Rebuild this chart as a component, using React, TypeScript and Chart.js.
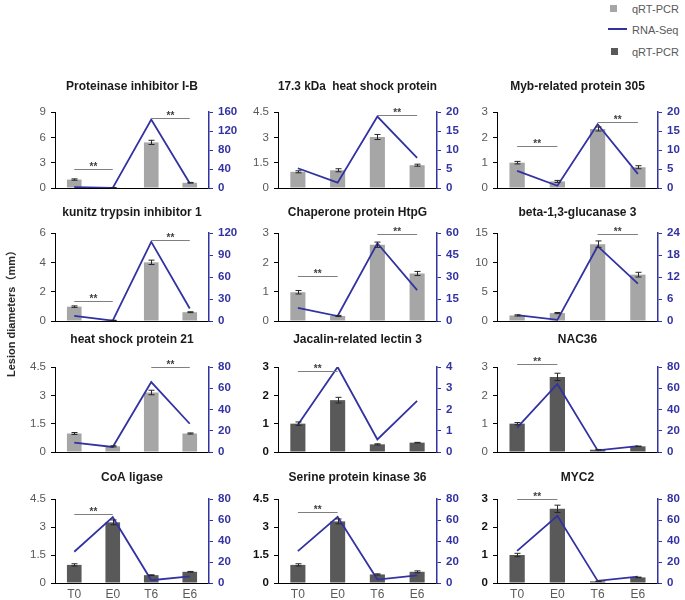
import React, { useEffect, useRef } from "react";
import { Chart, registerables } from "chart.js";

Chart.register(...registerables);

const FONT = "'Liberation Sans', Arial, Helvetica, sans-serif";
const BLUE = "#3232A2";
const LIGHT_BAR = "#A6A6A6";
const DARK_BAR = "#595959";

// ---------- data ----------
const categories = ["T0", "E0", "T6", "E6"];

const geneTitles = [
  "Proteinase inhibitor I-B",
  "17.3 kDa  heat shock protein",
  "Myb-related protein 305",
  "kunitz trypsin inhibitor 1",
  "Chaperone protein HtpG",
  "beta-1,3-glucanase 3",
  "heat shock protein 21",
  "Jacalin-related lectin 3",
  "NAC36",
  "CoA ligase",
  "Serine protein kinase 36",
  "MYC2",
];

const qpcrValues = [
  [1.0, 0.03, 5.4, 0.62],
  [0.96, 1.05, 3.02, 1.35],
  [1.0, 0.26, 2.33, 0.82],
  [0.98, 0.04, 4.0, 0.6],
  [0.98, 0.17, 2.6, 1.62],
  [0.95, 1.35, 13.1, 7.9],
  [0.98, 0.3, 3.15, 0.98],
  [1.0, 1.83, 0.27, 0.33],
  [1.0, 2.65, 0.08, 0.2],
  [0.97, 3.25, 0.42, 0.6],
  [0.97, 3.3, 0.46, 0.6],
  [1.0, 2.65, 0.06, 0.2],
];

const qpcrErrors = [
  [0.08, 0.01, 0.25, 0.04],
  [0.06, 0.09, 0.15, 0.06],
  [0.05, 0.04, 0.08, 0.06],
  [0.05, 0.01, 0.15, 0.03],
  [0.06, 0.02, 0.09, 0.07],
  [0.1, 0.1, 0.55, 0.4],
  [0.05, 0.03, 0.12, 0.03],
  [0.06, 0.1, 0.02, 0.01],
  [0.04, 0.13, 0.01, 0.01],
  [0.06, 0.13, 0.02, 0.02],
  [0.06, 0.13, 0.03, 0.05],
  [0.06, 0.13, 0.01, 0.01],
];

const rnaSeqValues = [
  [2, 0.3, 144, 10],
  [5.2, 1.4, 18.8, 7.9],
  [4.5, 0.6, 16.8, 3.7],
  [7, 0.5, 108, 17],
  [9, 3.4, 53, 21],
  [1.6, 0.3, 20.4, 10.2],
  [8.8, 4.7, 65.8, 26.6],
  [1.28, 4.0, 0.59, 2.41],
  [23, 64, 1.5, 5.6],
  [29.8, 62.7, 2.6, 6.4],
  [30.4, 63, 3.3, 7.2],
  [30.6, 64, 2, 6],
];

const leftMax = [9, 4.5, 3, 6, 3, 15, 4.5, 3, 3, 4.5, 4.5, 3];
const leftStep = [3, 1.5, 1, 2, 1, 5, 1.5, 1, 1, 1.5, 1.5, 1];
const rightMax = [160, 20, 20, 120, 60, 24, 80, 4, 80, 80, 80, 80];
const rightStep = [40, 5, 5, 30, 15, 6, 20, 1, 20, 20, 20, 20];

// significance brackets: [fromIndex, toIndex, height on left axis]
const sigBrackets = [
  [[0, 1, 2.25], [2, 3, 8.3]],
  [[2, 3, 4.34]],
  [[0, 1, 1.64], [2, 3, 2.6]],
  [[0, 1, 1.38], [2, 3, 5.54]],
  [[0, 1, 1.53], [2, 3, 2.98]],
  [[2, 3, 14.9]],
  [[2, 3, 4.5]],
  [[0, 1, 2.86]],
  [[0, 1, 3.09]],
  [[0, 1, 3.7]],
  [[0, 1, 3.82]],
  [[0, 1, 3.0]],
];

// ---------- layout ----------
const colLeft = [55, 278, 497];
const colRight = [209, 437, 658];
const rowTop = [112, 233, 367, 499];
const rowBottom = [188, 321, 452, 583];
const rowTitleY = [87, 213, 340, 478];
const M_LEFT = 50;
const M_RIGHT = 28;
const M_TOP = 40;
const M_BOTTOM = 22;

function Panel({ idx }: { idx: number }) {
  const ref = useRef<HTMLCanvasElement | null>(null);
  const row = Math.floor(idx / 3);
  const col = idx % 3;
  const plotW = colRight[col] - colLeft[col];
  const plotH = rowBottom[row] - rowTop[row];
  const cw = plotW + M_LEFT + M_RIGHT;
  const ch = plotH + M_TOP + M_BOTTOM;

  useEffect(() => {
    if (!ref.current) return;
    const d = rowTop[row] - rowTitleY[row];
    const titleLine = 12 * 1.2;
    const pt = M_TOP - d - titleLine / 2;
    const pb = M_TOP - titleLine - pt;
    const darkLabels = idx === 7 || idx === 10 || idx === 11;

    const overlay = {
      id: "overlay" + idx,
      afterDatasetsDraw(chart: any) {
        const ctx = chart.ctx;
        const x = chart.scales.x;
        const y = chart.scales.y;
        ctx.save();
        ctx.strokeStyle = "#262626";
        ctx.lineWidth = 1;
        qpcrValues[idx].forEach((v, i) => {
          const e = qpcrErrors[idx][i];
          const px = Math.round(x.getPixelForValue(i)) + 0.5;
          const yTop = y.getPixelForValue(v + e);
          const yBot = y.getPixelForValue(Math.max(0, v - e));
          ctx.beginPath();
          ctx.moveTo(px, yBot);
          ctx.lineTo(px, yTop);
          ctx.moveTo(px - 3, yTop);
          ctx.lineTo(px + 3, yTop);
          ctx.moveTo(px - 3, yBot);
          ctx.lineTo(px + 3, yBot);
          ctx.stroke();
        });
        ctx.strokeStyle = "#7F7F7F";
        ctx.fillStyle = "#404040";
        ctx.font = `bold 10px ${FONT}`;
        ctx.textAlign = "center";
        ctx.textBaseline = "alphabetic";
        sigBrackets[idx].forEach(([a, b, v]) => {
          const xa = x.getPixelForValue(a);
          const xb = x.getPixelForValue(b);
          const py = Math.round(y.getPixelForValue(v)) + 0.5;
          ctx.beginPath();
          ctx.moveTo(xa, py);
          ctx.lineTo(xb, py);
          ctx.stroke();
          ctx.fillText("**", (xa + xb) / 2, py);
        });
        ctx.restore();
      },
    };

    const chart = new Chart(ref.current, {
      type: "bar",
      data: {
        labels: categories,
        datasets: [
          {
            type: "line",
            label: "RNA-Seq",
            data: rnaSeqValues[idx],
            yAxisID: "y1",
            borderColor: BLUE,
            borderWidth: 1.8,
            pointRadius: 0,
            fill: false,
            tension: 0,
            order: 0,
          } as any,
          {
            type: "bar",
            label: "qRT-PCR",
            data: qpcrValues[idx],
            yAxisID: "y",
            backgroundColor: idx < 7 ? LIGHT_BAR : DARK_BAR,
            barPercentage: 0.38,
            categoryPercentage: 1,
            order: 1,
          },
        ],
      },
      options: {
        animation: false,
        responsive: false,
        events: [],
        layout: { padding: 0 },
        plugins: {
          legend: { display: false },
          tooltip: { enabled: false },
          title: {
            display: true,
            fullSize: false,
            text: geneTitles[idx],
            color: "#1A1A1A",
            font: { family: FONT, size: 12, weight: "bold" },
            padding: { top: pt, bottom: pb },
          },
        },
        scales: {
          x: {
            grid: { display: false, drawTicks: false },
            border: { display: true, color: "#000000", width: 1 },
            ticks: {
              display: row === 3,
              color: "#595959",
              font: { family: FONT, size: 12 },
              padding: 4,
            },
            afterFit: (s: any) => {
              s.height = M_BOTTOM;
            },
          },
          y: {
            position: "left",
            min: 0,
            max: leftMax[idx],
            ticks: {
              stepSize: leftStep[idx],
              color: darkLabels ? "#111111" : "#595959",
              font: { family: FONT, size: 11.5, weight: darkLabels ? "bold" : "normal" },
              padding: 5,
            },
            grid: { drawOnChartArea: false, drawTicks: true, tickLength: 4, color: "#000000" },
            border: { color: "#000000", width: 1 },
            afterFit: (s: any) => {
              s.width = M_LEFT;
            },
          },
          y1: {
            position: "right",
            min: 0,
            max: rightMax[idx],
            ticks: {
              stepSize: rightStep[idx],
              color: BLUE,
              font: { family: FONT, size: 11.5, weight: "bold" },
              padding: 5,
            },
            grid: { drawOnChartArea: false, drawTicks: true, tickLength: 4, color: BLUE },
            border: { color: BLUE, width: 1.5 },
            afterFit: (s: any) => {
              s.width = M_RIGHT;
            },
          },
        },
      } as any,
      plugins: [overlay],
    });
    return () => chart.destroy();
  }, [idx]);

  return (
    <canvas
      ref={ref}
      width={cw}
      height={ch}
      style={{
        position: "absolute",
        left: colLeft[col] - M_LEFT,
        top: rowTop[row] - M_TOP,
        width: cw,
        height: ch,
        display: "block",
      }}
    />
  );
}

export default function App() {
  const legendText: React.CSSProperties = {
    position: "absolute",
    left: 632,
    fontSize: 11,
    color: "#595959",
    lineHeight: "12px",
    fontFamily: FONT,
  };
  return (
    <div
      style={{
        position: "absolute",
        left: 0,
        top: 0,
        width: 685,
        height: 600,
        overflow: "hidden",
        background: "#ffffff",
        fontFamily: FONT,
      }}
    >
      {geneTitles.map((_, i) => (
        <Panel key={i} idx={i} />
      ))}
      {/* legend */}
      <div style={{ position: "absolute", left: 610, top: 5, width: 7, height: 7, background: LIGHT_BAR }} />
      <div style={{ ...legendText, top: 3 }}>qRT-PCR</div>
      <div style={{ position: "absolute", left: 608, top: 28, width: 19, height: 2, background: BLUE }} />
      <div style={{ ...legendText, top: 24 }}>RNA-Seq</div>
      <div style={{ position: "absolute", left: 611, top: 48, width: 7, height: 7, background: DARK_BAR }} />
      <div style={{ ...legendText, top: 46 }}>qRT-PCR</div>
      {/* y-axis title */}
      <div
        style={{
          position: "absolute",
          left: 10,
          top: 311,
          transform: "translate(-50%, -50%) rotate(-90deg)",
          whiteSpace: "nowrap",
          fontSize: 11,
          fontWeight: "bold",
          color: "#262626",
          fontFamily: "'Liberation Sans', Arial, 'Noto Sans CJK SC', sans-serif",
        }}
      >
        Lesion diameters（mm）
      </div>
    </div>
  );
}
